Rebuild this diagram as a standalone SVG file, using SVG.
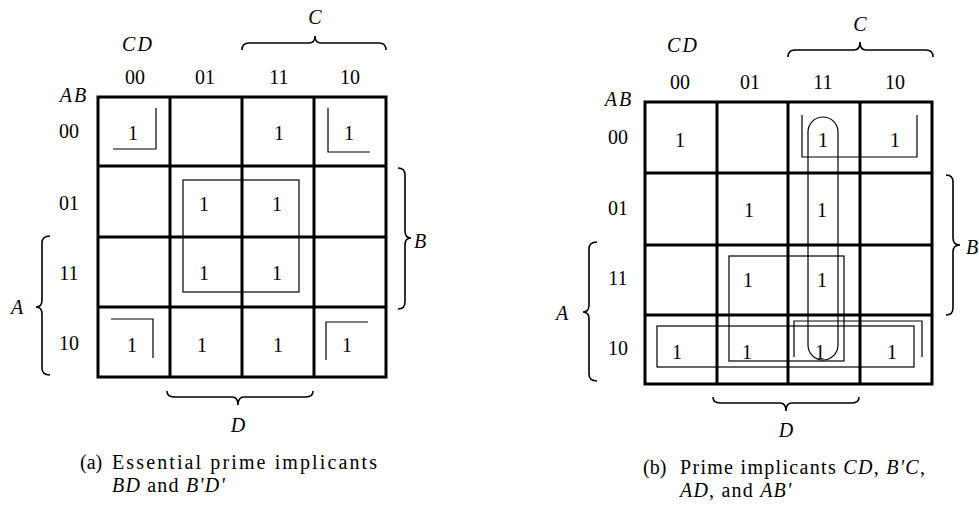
<svg xmlns="http://www.w3.org/2000/svg" width="979" height="508" viewBox="0 0 979 508">
<style>
text{font-family:"Liberation Serif","Times New Roman",serif;fill:#000}
.n{font-size:20px;text-anchor:middle}
.lbl{font-size:20px;text-anchor:middle}
.it{font-style:italic}
.ab{letter-spacing:2px}
.cap{font-size:20px}
.cap2{font-size:20px;letter-spacing:1.2px}
.grid{fill:none;stroke:#000;stroke-width:3}
.loop{fill:none;stroke:#000;stroke-width:1.2}
.brace{fill:none;stroke:#000;stroke-width:1.6}
</style>
<g id="mapA">
<g id="gridA">
<rect class="grid" x="98" y="97" width="288" height="280"/>
<path class="grid" d="M170,97V377M242,97V377M314,97V377M98,166H386M98,237H386M98,307H386"/>
</g>
<g id="labelsA">
<text class="lbl it ab" x="138" y="51">CD</text>
<text class="lbl it" x="315" y="24">C</text>
<text class="lbl it ab" x="74" y="102">AB</text>
<text class="lbl" x="135" y="84">00</text>
<text class="lbl" x="205" y="84">01</text>
<text class="lbl" x="279" y="84">11</text>
<text class="lbl" x="350" y="84">10</text>
<text class="lbl" x="69" y="138">00</text>
<text class="lbl" x="69" y="210">01</text>
<text class="lbl" x="69" y="280">11</text>
<text class="lbl" x="69" y="350">10</text>
<text class="lbl it" x="420" y="248">B</text>
<text class="lbl it" x="17" y="314">A</text>
<text class="lbl it" x="238" y="432">D</text>
</g>
<g id="onesA">
<text class="n" x="133" y="140">1</text>
<text class="n" x="279" y="140">1</text>
<text class="n" x="349" y="140">1</text>
<text class="n" x="204" y="211">1</text>
<text class="n" x="277" y="211">1</text>
<text class="n" x="204" y="280">1</text>
<text class="n" x="277" y="280">1</text>
<text class="n" x="132" y="352">1</text>
<text class="n" x="202" y="352">1</text>
<text class="n" x="278" y="352">1</text>
<text class="n" x="347" y="352">1</text>
</g>
<g id="loopsA">
<path class="loop" d="M113,149H156V108"/>
<path class="loop" d="M328,108V152H370"/>
<path class="loop" d="M111,319H153V358"/>
<path class="loop" d="M326,360V322H368"/>
<rect class="loop" x="183" y="180" width="116" height="112"/>
</g>
<g id="bracesA">
<path class="brace" d="M242,50Q242,43 249,43H309Q315,43 315,36Q315,43 321,43H379Q386,43 386,50"/>
<path class="brace" d="M167,391Q167,397 174,397H232Q238,397 238,405Q238,397 244,397H306Q313,397 313,391"/>
<path class="brace" d="M398,168Q405,168 405,175V231Q405,238 411,238Q405,238 405,245V302Q405,309 398,309"/>
<path class="brace" d="M50,236Q42,236 42,243V300Q42,307 36,307Q42,307 42,314V368Q42,375 50,375"/>
</g>
<g id="captionA">
<text class="cap" x="80" y="469">(a)</text>
<text class="cap" x="112" y="469" textLength="265" lengthAdjust="spacing">Essential prime implicants</text>
<text class="cap2" x="112" y="492"><tspan class="it">BD</tspan> and <tspan class="it">B'D'</tspan></text>
</g>
</g>
<g id="mapB">
<g id="gridB">
<rect class="grid" x="645" y="102" width="287" height="282"/>
<path class="grid" d="M717,102V384M788,102V384M860,102V384M645,173H932M645,245H932M645,315H932"/>
</g>
<g id="labelsB">
<text class="lbl it ab" x="683" y="52">CD</text>
<text class="lbl it" x="860" y="31">C</text>
<text class="lbl it ab" x="619" y="106">AB</text>
<text class="lbl" x="680" y="89">00</text>
<text class="lbl" x="750" y="89">01</text>
<text class="lbl" x="823" y="89">11</text>
<text class="lbl" x="895" y="89">10</text>
<text class="lbl" x="618" y="144">00</text>
<text class="lbl" x="618" y="215">01</text>
<text class="lbl" x="618" y="285">11</text>
<text class="lbl" x="618" y="355">10</text>
<text class="it" x="966" y="254" style="font-size:20px">B</text>
<text class="lbl it" x="562" y="320">A</text>
<text class="lbl it" x="786" y="437">D</text>
</g>
<g id="onesB">
<text class="n" x="680" y="147">1</text>
<text class="n" x="823" y="147">1</text>
<text class="n" x="895" y="147">1</text>
<text class="n" x="749" y="217">1</text>
<text class="n" x="822" y="217">1</text>
<text class="n" x="748" y="287">1</text>
<text class="n" x="822" y="287">1</text>
<text class="n" x="677" y="359">1</text>
<text class="n" x="747" y="359">1</text>
<text class="n" x="820" y="359">1</text>
<text class="n" x="892" y="359">1</text>
</g>
<g id="loopsB">
<rect class="loop" x="808" y="117" width="30" height="243" rx="15" ry="15"/>
<path class="loop" d="M802,115V157H917V115"/>
<path class="loop" d="M794,357V321H922V357"/>
<rect class="loop" x="729" y="256" width="115" height="105"/>
<rect class="loop" x="657" y="326" width="257" height="41"/>
</g>
<g id="bracesB">
<path class="brace" d="M788,57Q788,50 795,50H854Q860,50 860,42Q860,50 866,50H926Q933,50 933,57"/>
<path class="brace" d="M713,397Q713,403 720,403H780Q786,403 786,411Q786,403 792,403H852Q859,403 859,397"/>
<path class="brace" d="M946,175Q953,175 953,182V238Q953,245 960,245Q953,245 953,252V308Q953,315 946,315"/>
<path class="brace" d="M597,242Q589,242 589,249V305Q589,312 583,312Q589,312 589,319V374Q589,381 597,381"/>
</g>
<g id="captionB">
<text class="cap" x="643" y="474">(b)</text>
<text class="cap" x="680" y="474" textLength="245" lengthAdjust="spacing">Prime implicants <tspan class="it">CD</tspan>, <tspan class="it">B'C</tspan>,</text>
<text class="cap2" x="680" y="497"><tspan class="it">AD</tspan>, and <tspan class="it">AB'</tspan></text>
</g>
</g>
</svg>
